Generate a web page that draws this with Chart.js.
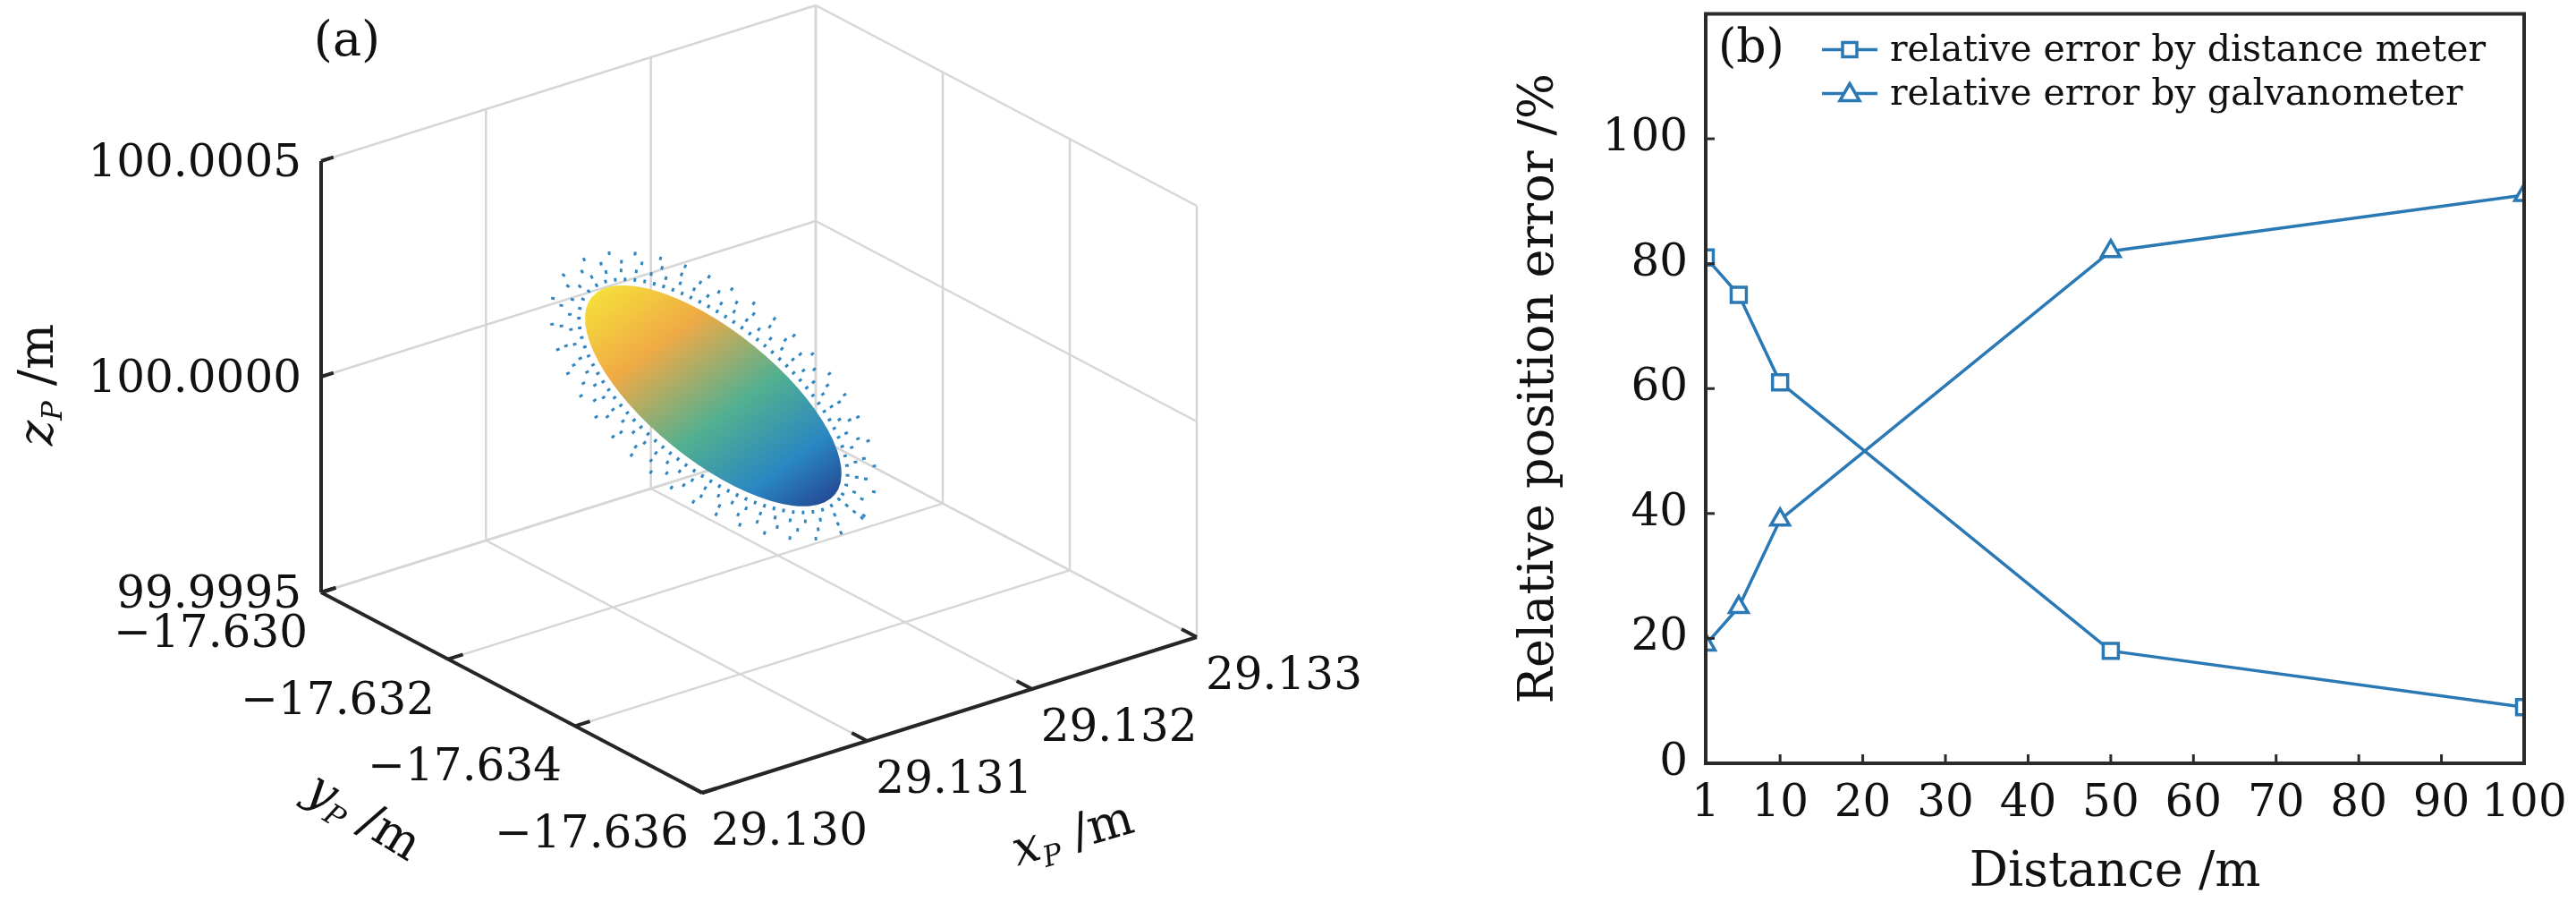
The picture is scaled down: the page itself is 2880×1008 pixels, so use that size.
<!DOCTYPE html>
<html><head><meta charset="utf-8">
<script src="https://cdn.jsdelivr.net/npm/chart.js@4"></script>
<style>
html,body{margin:0;padding:0;background:#fff;width:2880px;height:1008px;overflow:hidden}
#wa{position:absolute;left:0;top:0;width:1600px;height:1008px}
#wb{position:absolute;left:1690px;top:0;width:1190px;height:1008px}
</style></head><body>
<div id="wa"><canvas id="ca"></canvas></div>
<div id="wb"><canvas id="cb"></canvas></div>
<script>
// ---- data (b)
const distances = [1, 5, 10, 50, 100];
const errDistanceMeter = [81, 75, 61, 18, 9];
const errGalvanometer = [19, 25, 39, 82, 91];
const xTickValues = [1, 10, 20, 30, 40, 50, 60, 70, 80, 90, 100];
const yTickValues = [0, 20, 40, 60, 80, 100];
const seriesLabels = ['relative error by distance meter', 'relative error by galvanometer'];
// ---- data (a)
const xTicks3d = ['29.130', '29.131', '29.132', '29.133'];
const yTicks3d = ['\u221217.636', '\u221217.634', '\u221217.632', '\u221217.630'];
const zTicks3d = ['99.9995', '100.0000', '100.0005'];
const ellipsoidCenter = [0.45, 0.555, 0.5]; // normalized box coords (u,v,w)

const BLUE = '#2a78b4';
const SERIF = '"DejaVu Serif", "Liberation Serif", serif';
Chart.defaults.font.family = SERIF;
Chart.defaults.color = '#222';

// ---------- Panel (a): 3D box drawn through hidden linear scales
function proj(sc, u, v, w) {
  const px = 785 + 553*u - 426*v;
  const py = 886 - 174*u - 224*v - 482*w;
  return [sc.x.getPixelForValue(px), sc.y.getPixelForValue(py)];
}
const box3d = {
  id: 'box3d',
  beforeDatasetsDraw(chart) {
    const c = chart.ctx, sc = chart.scales;
    const L = (a, b, col, lw) => { c.beginPath(); c.strokeStyle = col; c.lineWidth = lw;
      const p = proj(sc, ...a), q = proj(sc, ...b); c.moveTo(p[0], p[1]); c.lineTo(q[0], q[1]); c.stroke(); };
    const g = '#d6d6d6';
    for (let i = 0; i <= 3; i++) {
      const t = i/3;
      L([t,0,0],[t,1,0],g,2.5); L([t,1,0],[t,1,1],g,2.5);
      L([0,t,0],[1,t,0],g,2.5); L([1,t,0],[1,t,1],g,2.5);
    }
    for (let i = 0; i <= 2; i++) {
      const t = i/2;
      L([0,1,t],[1,1,t],g,2.5); L([1,0,t],[1,1,t],g,2.5);
    }
    const k = '#262626';
    L([0,1,0],[0,1,1],k,4); L([0,0,0],[0,1,0],k,4); L([0,0,0],[1,0,0],k,4);
    for (let i = 0; i <= 2; i++) L([0,1,i/2],[0.025,1,i/2],k,4);
    for (let i = 0; i <= 3; i++) { L([0,i/3,0],[0.03,i/3,0],k,4); L([i/3,0,0],[i/3,0.04,0],k,4); }
    c.fillStyle = '#111'; c.font = '50px ' + SERIF; c.textBaseline = 'middle';
    c.textAlign = 'right';
    zTicks3d.forEach((t, i) => { const p = proj(sc, 0, 1, i/2); c.fillText(t, p[0] - 22, p[1] + 4); });
    yTicks3d.forEach((t, i) => { const p = proj(sc, 0, i/3, 0); c.fillText(t, p[0] - 15, p[1] + 48); });
    c.textAlign = 'left';
    xTicks3d.forEach((t, i) => { const p = proj(sc, i/3, 0, 0); c.fillText(t, p[0] + 10, p[1] + 45); });
    const lab = (x, y, rot, a, b) => { c.save(); c.translate(x, y); c.rotate(rot);
      c.font = 'italic 54px ' + SERIF; const w1 = c.measureText(a).width;
      c.font = 'italic 32px ' + SERIF; const w2 = c.measureText('P').width;
      c.font = '54px ' + SERIF; const w3 = c.measureText(b).width;
      let s = -(w1 + w2 + w3)/2;
      c.textAlign = 'left';
      c.font = 'italic 54px ' + SERIF; c.fillText(a, s, 0); s += w1;
      c.font = 'italic 32px ' + SERIF; c.fillText('P', s, 16); s += w2;
      c.font = '54px ' + SERIF; c.fillText(b, s, 0); c.restore(); };
    lab(sc.x.getPixelForValue(45), sc.y.getPixelForValue(430), -Math.PI/2, 'z', ' /m');
    lab(sc.x.getPixelForValue(405), sc.y.getPixelForValue(915), 0.55, 'y', ' /m');
    lab(sc.x.getPixelForValue(1200), sc.y.getPixelForValue(935), -0.28, 'x', ' /m');
    c.font = '54px ' + SERIF; c.textAlign = 'center';
    c.fillText('(a)', sc.x.getPixelForValue(388), sc.y.getPixelForValue(48));
    // ellipsoid
    const ctr = proj(sc, ...ellipsoidCenter);
    c.save(); c.translate(ctr[0], ctr[1]); c.rotate(0.68);
    for (let r = 0; r < 4; r++) {
      c.beginPath(); c.setLineDash([3, 8 + r*6]); c.lineWidth = 4; c.strokeStyle = '#2f86c0';
      c.ellipse(0, 0, 182 + r*11, 80 + r*10, 0, 0, Math.PI*2); c.stroke();
    }
    c.setLineDash([]);
    const gr = c.createLinearGradient(-165, -40, 175, 50);
    gr.addColorStop(0, '#f5de3a'); gr.addColorStop(0.25, '#f0aa45');
    gr.addColorStop(0.55, '#52b090'); gr.addColorStop(0.8, '#2a86c2'); gr.addColorStop(1, '#23408e');
    c.beginPath(); c.fillStyle = gr; c.ellipse(0, 0, 175, 72, 0, 0, Math.PI*2); c.fill();
    c.restore();
  }
};
new Chart(document.getElementById('ca'), {
  type: 'scatter',
  data: { datasets: [{ data: [] }] },
  options: {
    responsive: true, maintainAspectRatio: false, animation: false,
    layout: { padding: 0 },
    plugins: { legend: { display: false }, tooltip: { enabled: false } },
    scales: {
      x: { display: false, min: 0, max: 1600 },
      y: { display: false, min: 0, max: 1008, reverse: true }
    }
  },
  plugins: [box3d]
});

// ---------- Panel (b)
const frameLegend = {
  id: 'frameLegend',
  afterDraw(chart) {
    const c = chart.ctx, a = chart.chartArea;
    c.save(); c.strokeStyle = '#2a2a2a'; c.lineWidth = 4;
    c.strokeRect(a.left, a.top, a.right - a.left, a.bottom - a.top);
    const sx = chart.scales.x, sy = chart.scales.y;
    c.lineWidth = 3;
    xTickValues.forEach(v => { const p = sx.getPixelForValue(v);
      c.beginPath(); c.moveTo(p, a.bottom); c.lineTo(p, a.bottom - 10); c.stroke(); });
    yTickValues.forEach(v => { const p = sy.getPixelForValue(v);
      c.beginPath(); c.moveTo(a.left, p); c.lineTo(a.left + 10, p); c.stroke(); });
    c.fillStyle = '#111'; c.font = '52px ' + SERIF; c.textBaseline = 'middle';
    c.textAlign = 'left';
    c.fillText('(b)', a.left + 14, a.top + 40);
    c.font = '41px ' + SERIF;
    chart.data.datasets.forEach((ds, i) => {
      const y = a.top + 40 + i*49, x0 = a.left + 130;
      c.strokeStyle = BLUE; c.lineWidth = 3.5;
      c.beginPath(); c.moveTo(x0, y); c.lineTo(x0 + 62, y); c.stroke();
      c.fillStyle = '#fff'; c.beginPath();
      if (i === 0) { c.rect(x0 + 23, y - 8, 16, 16); }
      else { c.moveTo(x0 + 31, y - 11); c.lineTo(x0 + 42, y + 8); c.lineTo(x0 + 20, y + 8); c.closePath(); }
      c.fill(); c.stroke();
      c.fillStyle = '#111'; c.fillText(ds.label, x0 + 76, y + 2);
    });
    c.restore();
  }
};
const mkDs = (label, vals, style) => ({
  label, data: distances.map((d, i) => ({ x: d, y: vals[i] })),
  borderColor: BLUE, backgroundColor: '#fff', borderWidth: 3.5,
  pointStyle: style, pointRadius: 12, pointBorderWidth: 3.5, pointBackgroundColor: '#fff'
});
new Chart(document.getElementById('cb'), {
  type: 'line',
  data: { datasets: [mkDs(seriesLabels[0], errDistanceMeter, 'rect'), mkDs(seriesLabels[1], errGalvanometer, 'triangle')] },
  options: {
    responsive: true, maintainAspectRatio: false, animation: false,
    layout: { padding: { top: 12, right: 58, bottom: 0, left: 0 } },
    plugins: { legend: { display: false }, tooltip: { enabled: false } },
    scales: {
      x: { type: 'linear', min: 1, max: 100,
        afterBuildTicks: s => { s.ticks = xTickValues.map(v => ({ value: v })); },
        afterFit: s => { s.height = 155; s.paddingLeft = 0; s.paddingRight = 0; },
        grid: { display: false }, border: { display: false },
        ticks: { font: { size: 50 }, color: '#111', padding: 8, maxRotation: 0, autoSkip: false },
        title: { display: true, text: 'Distance /m', font: { size: 54 }, color: '#111', padding: 0 } },
      y: { min: 0, max: 120,
        afterBuildTicks: s => { s.ticks = yTickValues.map(v => ({ value: v })); },
        afterFit: s => { s.width = 217; s.paddingTop = 0; s.paddingBottom = 0; },
        grid: { display: false }, border: { display: false },
        ticks: { font: { size: 50 }, color: '#111', padding: 12 },
        title: { display: true, text: 'Relative position error /%', font: { size: 54 }, color: '#111', padding: 0 } }
    }
  },
  plugins: [frameLegend]
});
</script>
</body></html>
